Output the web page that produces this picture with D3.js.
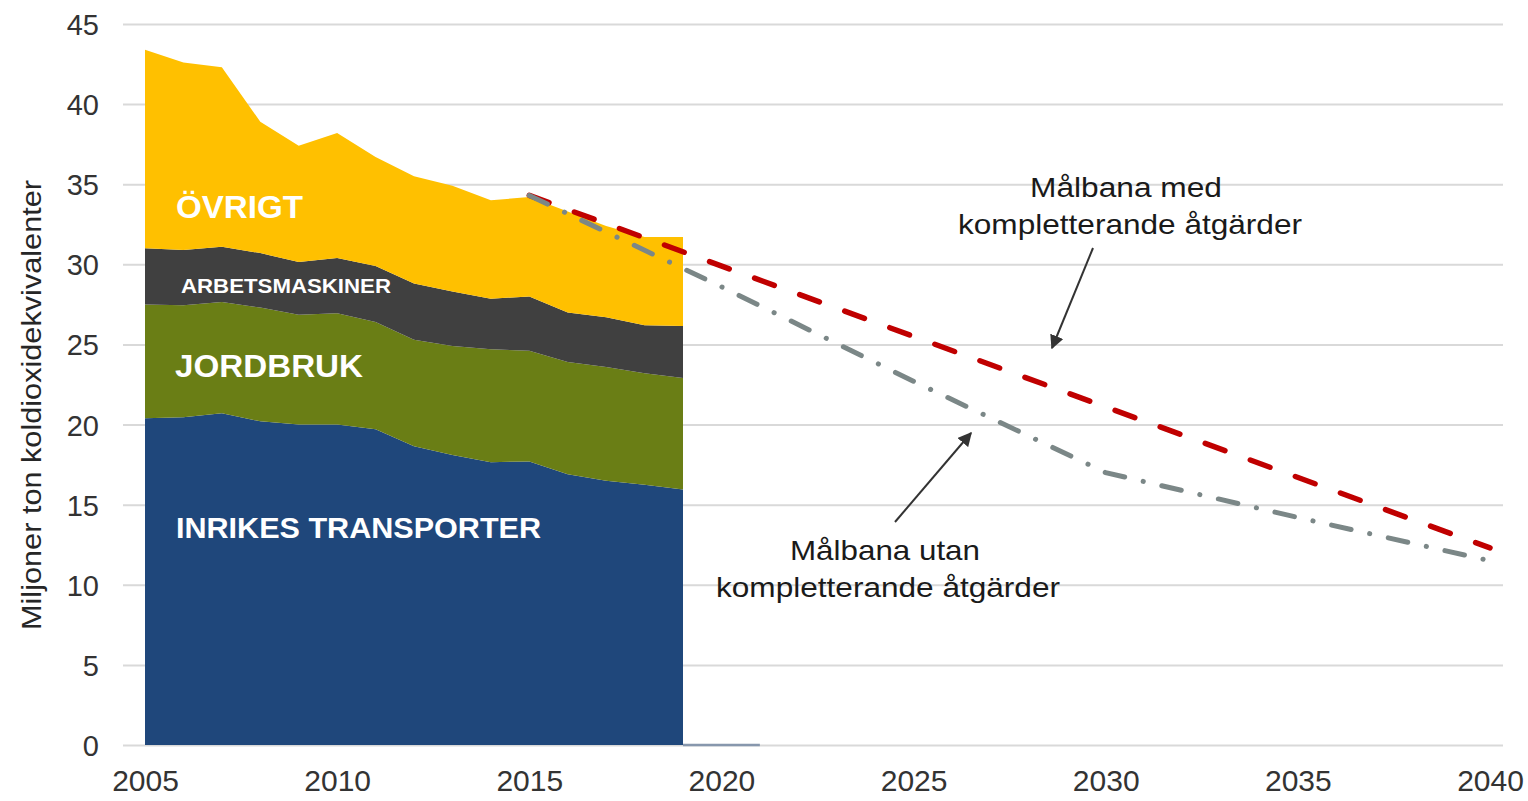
<!DOCTYPE html>
<html>
<head>
<meta charset="utf-8">
<script src="https://cdn.jsdelivr.net/npm/d3@7"></script>
<style>
  html, body { margin: 0; padding: 0; background: #ffffff; }
  svg { display: block; }
  text { font-family: "Liberation Sans", Arial, sans-serif; }
</style>
</head>
<body>
<svg id="chart" width="1528" height="801"></svg>
<script>
// ---- Data ----
const years = [2005,2006,2007,2008,2009,2010,2011,2012,2013,2014,2015,2016,2017,2018,2019];
const inrikesTransporter = [20.4,20.45,20.7,20.2,20.0,20.0,19.7,18.65,18.1,17.65,17.7,16.9,16.5,16.25,15.95];
const jordbruk          = [7.1,7.0,6.95,7.1,6.85,6.95,6.7,6.65,6.8,7.05,6.9,7.0,7.1,6.95,6.95];
const arbetsmaskiner    = [3.5,3.45,3.45,3.4,3.3,3.45,3.5,3.5,3.4,3.15,3.4,3.1,3.1,3.0,3.25];
const ovrigt            = [12.4,11.7,11.2,8.2,7.25,7.8,6.8,6.7,6.6,6.15,6.2,6.3,5.7,5.5,5.55];

const seriesNames  = ["INRIKES TRANSPORTER","JORDBRUK","ARBETSMASKINER","ÖVRIGT"];
const seriesColors = ["#1f477b","#6a7e15","#404040","#ffc000"];

const medYears   = [2015, 2040];
const medValues  = [34.3, 12.3];
const utanYears  = [2015, 2020, 2025, 2030, 2035, 2040];
const utanValues = [34.3, 28.6, 22.7, 17.0, 14.2, 11.5];
const baseYears  = [2019, 2021];
const baseValues = [0, 0];

const yTicks = [0,5,10,15,20,25,30,35,40,45];
const xTicks = [2005,2010,2015,2020,2025,2030,2035,2040];
const yTitle = "Miljoner ton koldioxidekvivalenter";

// ---- Scales ----
const svg = d3.select("#chart");
const x = d3.scaleLinear().domain([2005, 2040]).range([145, 1490]);
const y = d3.scaleLinear().domain([0, 45]).range([745, 24]);
const gridLeft = 123, gridRight = 1503;

// ---- Y axis with gridlines ----
const yAxis = svg.append("g")
  .attr("transform", `translate(${gridLeft},0)`)
  .call(d3.axisLeft(y).tickValues(yTicks).tickSize(-(gridRight - gridLeft)).tickPadding(24));
yAxis.select(".domain").remove();
yAxis.selectAll(".tick line").attr("stroke", "#d9d9d9").attr("stroke-width", 2);
yAxis.selectAll(".tick text")
  .attr("fill", "#333333")
  .style("font-size", "29px")
  .attr("dy", "0.36em");

// ---- Stacked areas ----
const table = years.map((yr, i) => ({
  year: yr,
  "INRIKES TRANSPORTER": inrikesTransporter[i],
  "JORDBRUK": jordbruk[i],
  "ARBETSMASKINER": arbetsmaskiner[i],
  "ÖVRIGT": ovrigt[i]
}));
const stacked = d3.stack().keys(seriesNames)(table);
const area = d3.area()
  .x(d => x(d.data.year))
  .y0(d => y(d[0]))
  .y1(d => y(d[1]));
svg.append("g").selectAll("path")
  .data(stacked)
  .join("path")
  .attr("d", area)
  .attr("fill", (d, i) => seriesColors[i]);

// ---- Small base line after the areas ----
const line = d3.line().x(d => x(d[0])).y(d => y(d[1]));
svg.append("path")
  .attr("d", line(baseYears.map((yr, i) => [yr, baseValues[i]])))
  .attr("fill", "none")
  .attr("stroke", "#8797ad")
  .attr("stroke-width", 2.5);

// ---- Target paths ----
svg.append("path")
  .attr("d", line(medYears.map((yr, i) => [yr, medValues[i]])))
  .attr("fill", "none")
  .attr("stroke", "#c00000")
  .attr("stroke-width", 5.5)
  .attr("stroke-linecap", "round")
  .attr("stroke-dasharray", "21,27");

svg.append("path")
  .attr("d", line(utanYears.map((yr, i) => [yr, utanValues[i]])))
  .attr("fill", "none")
  .attr("stroke", "#7b8787")
  .attr("stroke-width", 5)
  .attr("stroke-linecap", "round")
  .attr("stroke-dasharray", "20,19,0.1,19");

// ---- X axis ----
const xAxis = svg.append("g")
  .attr("transform", `translate(0,${y(0)})`)
  .call(d3.axisBottom(x).tickValues(xTicks).tickSize(0).tickPadding(25).tickFormat(d3.format("d")));
xAxis.select(".domain").remove();
xAxis.selectAll(".tick text")
  .attr("fill", "#333333")
  .style("font-size", "30px");

// ---- Y title ----
svg.append("text")
  .attr("transform", "translate(41,405) rotate(-90)")
  .attr("text-anchor", "middle")
  .attr("fill", "#262626")
  .style("font-size", "27px")
  .attr("textLength", 450)
  .attr("lengthAdjust", "spacingAndGlyphs")
  .text(yTitle);

// ---- Area labels ----
const areaLabels = [
  { t: "ÖVRIGT", x: 176, y: 218, s: 31, w: 127 },
  { t: "ARBETSMASKINER", x: 181, y: 293, s: 20, w: 210 },
  { t: "JORDBRUK", x: 175, y: 377, s: 32, w: 188 },
  { t: "INRIKES TRANSPORTER", x: 176, y: 538, s: 30, w: 365 }
];
svg.append("g").selectAll("text")
  .data(areaLabels)
  .join("text")
  .attr("x", d => d.x)
  .attr("y", d => d.y)
  .attr("fill", "#ffffff")
  .style("font-weight", "bold")
  .style("font-size", d => d.s + "px")
  .attr("textLength", d => d.w)
  .attr("lengthAdjust", "spacingAndGlyphs")
  .text(d => d.t);

// ---- Annotations ----
const notes = [
  { t: "Målbana med", x: 1126, y: 197, w: 192 },
  { t: "kompletterande åtgärder", x: 1130, y: 234, w: 344 },
  { t: "Målbana utan", x: 885, y: 560, w: 190 },
  { t: "kompletterande åtgärder", x: 888, y: 597, w: 344 }
];
svg.append("g").selectAll("text")
  .data(notes)
  .join("text")
  .attr("x", d => d.x)
  .attr("y", d => d.y)
  .attr("text-anchor", "middle")
  .attr("fill", "#1a1a1a")
  .style("font-size", "28px")
  .attr("textLength", d => d.w)
  .attr("lengthAdjust", "spacingAndGlyphs")
  .text(d => d.t);

// ---- Arrows ----
const defs = svg.append("defs");
defs.append("marker")
  .attr("id", "arrow")
  .attr("viewBox", "0 0 10 10")
  .attr("refX", 9).attr("refY", 5)
  .attr("markerWidth", 7).attr("markerHeight", 7)
  .attr("orient", "auto")
  .append("path")
  .attr("d", "M0,0 L10,5 L0,10 Z")
  .attr("fill", "#333333");

const arrows = [
  { x1: 1093, y1: 248, x2: 1052, y2: 348 },
  { x1: 895, y1: 522, x2: 971, y2: 433 }
];
svg.append("g").selectAll("line")
  .data(arrows)
  .join("line")
  .attr("x1", d => d.x1).attr("y1", d => d.y1)
  .attr("x2", d => d.x2).attr("y2", d => d.y2)
  .attr("stroke", "#333333")
  .attr("stroke-width", 2)
  .attr("marker-end", "url(#arrow)");
</script>
</body>
</html>
